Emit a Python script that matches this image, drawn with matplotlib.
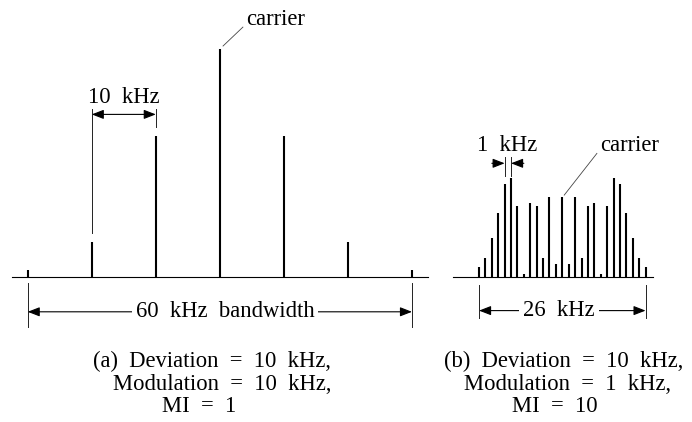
import matplotlib
matplotlib.use("Agg")
import matplotlib.pyplot as plt

plt.rcParams['font.family'] = ['Liberation Serif', 'DejaVu Serif']

# --- spectrum (a): deviation 10 kHz, modulation 10 kHz, MI = 1 ---
freq_a = [-30, -20, -10, 0, 10, 20, 30]          # kHz from carrier
amp_a = [0.022, 0.117, 0.47, 0.76, 0.47, 0.117, 0.022]

# --- spectrum (b): deviation 10 kHz, modulation 1 kHz, MI = 10 ---
freq_b = [-13, -12, -11, -10, -9, -8, -7, -6, -5, -4, -3, -2, -1, 0,
          1, 2, 3, 4, 5, 6, 7, 8, 9, 10, 11, 12, 13]
amp_b = [0.033, 0.064, 0.129, 0.213, 0.309, 0.331, 0.236, 0.011, 0.246,
         0.236, 0.064, 0.267, 0.042, 0.267, 0.042, 0.267, 0.064, 0.236,
         0.246, 0.011, 0.236, 0.331, 0.309, 0.213, 0.129, 0.064, 0.033]

caption_a = ["(a)  Deviation  =  10  kHz,", "Modulation  =  10  kHz,", "MI  =  1"]
caption_b = ["(b)  Deviation  =  10  kHz,", "Modulation  =  1  kHz,", "MI  =  10"]

W, H = 692, 422
PX_PER_KHZ = 6.405
BASE_PX = 277.0
YLIM = (-0.48, 0.92)
PX_PER_UNIT = 300.0
FS = 16.3


def place_axes(fig, carrier_px, xlim):
    left = carrier_px + xlim[0] * PX_PER_KHZ
    right = carrier_px + xlim[1] * PX_PER_KHZ
    top = BASE_PX - YLIM[1] * PX_PER_UNIT
    bottom = BASE_PX - YLIM[0] * PX_PER_UNIT
    ax = fig.add_axes([left / W, 1 - bottom / H, (right - left) / W, (bottom - top) / H])
    ax.set_xlim(*xlim)
    ax.set_ylim(*YLIM)
    ax.axis('off')
    return ax


def dim_arrow(ax, x0, x1, y, style='<|-|>'):
    ax.annotate('', xy=(x1, y), xytext=(x0, y),
                arrowprops=dict(arrowstyle=f'{style},head_length=0.9,head_width=0.35',
                                mutation_scale=8, lw=0.8, color='black',
                                shrinkA=0, shrinkB=0))


def ext_line(ax, x, y0, y1):
    ax.plot([x, x], [y0, y1], color='#222222', lw=0.7)


fig = plt.figure(figsize=(W / 100, H / 100), dpi=100)

# ---------------- panel (a) ----------------
ax = place_axes(fig, 219.85, (-34, 34))
ax.plot([-32.4, 32.5], [0, 0], color='black', lw=0.8)
ax.vlines(freq_a, 0, amp_a, color='black', lw=1.5)

# 10 kHz spacing
ext_line(ax, freq_a[1], amp_a[1] + 0.03, 0.56)
ext_line(ax, freq_a[2], amp_a[2] + 0.03, 0.56)
dim_arrow(ax, freq_a[1], freq_a[2], 0.542)
ax.text((freq_a[1] + freq_a[2]) / 2, 0.60, "10  kHz", ha='center', va='center', fontsize=FS)

# carrier
ax.plot([0.5, 3.6], [0.77, 0.833], color='#444444', lw=0.6)
ax.text(4.1, 0.86, "carrier", ha='left', va='center', fontsize=FS)

# bandwidth
ext_line(ax, freq_a[0], -0.02, -0.165)
ext_line(ax, freq_a[-1], -0.02, -0.165)
dim_arrow(ax, freq_a[0], freq_a[-1], -0.116)
ax.text(0.8, -0.116, "60  kHz  bandwidth", ha='center', va='center', fontsize=FS,
        bbox=dict(facecolor='white', edgecolor='none', pad=3))

# caption
ax.text(-19.8, -0.282, caption_a[0], ha='left', va='center', fontsize=FS)
ax.text(-16.7, -0.357, caption_a[1], ha='left', va='center', fontsize=FS)
ax.text(-9.0, -0.433, caption_a[2], ha='left', va='center', fontsize=FS)

# ---------------- panel (b) ----------------
bx = place_axes(fig, 562.3, (-19, 19))
bx.plot([-17.1, 14.2], [0, 0], color='black', lw=0.8)
bx.vlines(freq_b, 0, amp_b, color='black', lw=1.5)

# 1 kHz spacing
i9, i8 = 4, 5
ext_line(bx, freq_b[i9], 0.336, 0.40)
ext_line(bx, freq_b[i8], 0.336, 0.40)
dim_arrow(bx, freq_b[i9] - 2, freq_b[i9], 0.379, style='-|>')
dim_arrow(bx, freq_b[i8] + 2, freq_b[i8], 0.379, style='-|>')
bx.text(-8.55, 0.44, "1  kHz", ha='center', va='center', fontsize=FS)

# carrier
bx.plot([0.3, 5.4], [0.273, 0.412], color='#444444', lw=0.6)
bx.text(5.9, 0.44, "carrier", ha='left', va='center', fontsize=FS)

# 26 kHz
ext_line(bx, freq_b[0], -0.027, -0.135)
ext_line(bx, freq_b[-1], -0.027, -0.135)
dim_arrow(bx, freq_b[0], freq_b[-1], -0.112)
bx.text(-0.5, -0.112, "26  kHz", ha='center', va='center', fontsize=FS,
        bbox=dict(facecolor='white', edgecolor='none', pad=3))

# caption
bx.text(-18.5, -0.282, caption_b[0], ha='left', va='center', fontsize=FS)
bx.text(-15.4, -0.357, caption_b[1], ha='left', va='center', fontsize=FS)
bx.text(-7.8, -0.433, caption_b[2], ha='left', va='center', fontsize=FS)

fig.savefig("out.png", dpi=100)
